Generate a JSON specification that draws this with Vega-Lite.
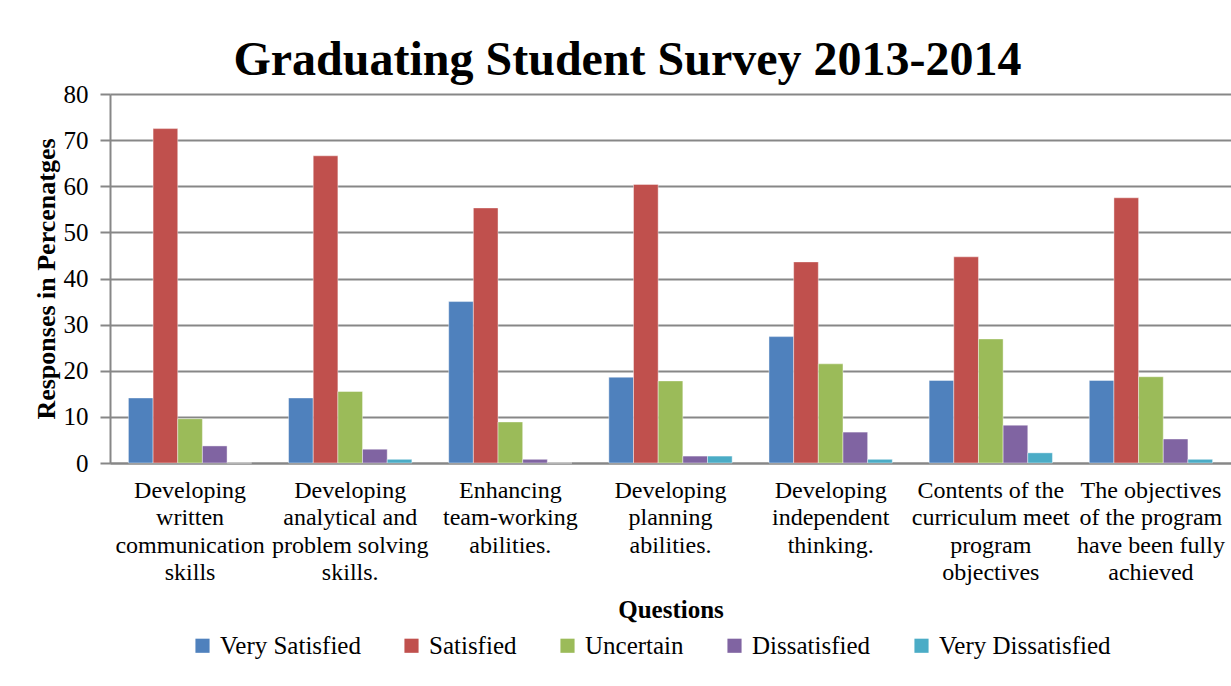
{
  "$schema": "https://vega.github.io/schema/vega-lite/v6.json",
  "autosize": "none",
  "width": 1121,
  "height": 369,
  "padding": {"left": 110, "top": 94, "right": 0, "bottom": 223},
  "background": "white",
  "title": {
    "text": "Graduating Student Survey 2013-2014",
    "font": "Liberation Serif",
    "fontSize": 48,
    "fontWeight": "bold",
    "color": "black",
    "anchor": "middle",
    "frame": "group",
    "dx": -43,
    "offset": -3
  },
  "data": {
    "values": [
      {"question": "Developing written communication skills", "response": "Very Satisfied", "pct": 14.1},
      {"question": "Developing written communication skills", "response": "Satisfied", "pct": 72.5},
      {"question": "Developing written communication skills", "response": "Uncertain", "pct": 9.6},
      {"question": "Developing written communication skills", "response": "Dissatisfied", "pct": 3.7},
      {"question": "Developing written communication skills", "response": "Very Dissatisfied", "pct": 0},
      {"question": "Developing analytical and problem solving skills.", "response": "Very Satisfied", "pct": 14.1},
      {"question": "Developing analytical and problem solving skills.", "response": "Satisfied", "pct": 66.6},
      {"question": "Developing analytical and problem solving skills.", "response": "Uncertain", "pct": 15.5},
      {"question": "Developing analytical and problem solving skills.", "response": "Dissatisfied", "pct": 3.0},
      {"question": "Developing analytical and problem solving skills.", "response": "Very Dissatisfied", "pct": 0.8},
      {"question": "Enhancing team-working abilities.", "response": "Very Satisfied", "pct": 35.0},
      {"question": "Enhancing team-working abilities.", "response": "Satisfied", "pct": 55.3},
      {"question": "Enhancing team-working abilities.", "response": "Uncertain", "pct": 8.9},
      {"question": "Enhancing team-working abilities.", "response": "Dissatisfied", "pct": 0.8},
      {"question": "Enhancing team-working abilities.", "response": "Very Dissatisfied", "pct": 0},
      {"question": "Developing planning abilities.", "response": "Very Satisfied", "pct": 18.6},
      {"question": "Developing planning abilities.", "response": "Satisfied", "pct": 60.4},
      {"question": "Developing planning abilities.", "response": "Uncertain", "pct": 17.8},
      {"question": "Developing planning abilities.", "response": "Dissatisfied", "pct": 1.5},
      {"question": "Developing planning abilities.", "response": "Very Dissatisfied", "pct": 1.5},
      {"question": "Developing independent thinking.", "response": "Very Satisfied", "pct": 27.4},
      {"question": "Developing independent thinking.", "response": "Satisfied", "pct": 43.6},
      {"question": "Developing independent thinking.", "response": "Uncertain", "pct": 21.5},
      {"question": "Developing independent thinking.", "response": "Dissatisfied", "pct": 6.7},
      {"question": "Developing independent thinking.", "response": "Very Dissatisfied", "pct": 0.8},
      {"question": "Contents of the curriculum meet program objectives", "response": "Very Satisfied", "pct": 17.9},
      {"question": "Contents of the curriculum meet program objectives", "response": "Satisfied", "pct": 44.7},
      {"question": "Contents of the curriculum meet program objectives", "response": "Uncertain", "pct": 26.9},
      {"question": "Contents of the curriculum meet program objectives", "response": "Dissatisfied", "pct": 8.2},
      {"question": "Contents of the curriculum meet program objectives", "response": "Very Dissatisfied", "pct": 2.2},
      {"question": "The objectives of the program have been fully achieved", "response": "Very Satisfied", "pct": 17.9},
      {"question": "The objectives of the program have been fully achieved", "response": "Satisfied", "pct": 57.5},
      {"question": "The objectives of the program have been fully achieved", "response": "Uncertain", "pct": 18.7},
      {"question": "The objectives of the program have been fully achieved", "response": "Dissatisfied", "pct": 5.2},
      {"question": "The objectives of the program have been fully achieved", "response": "Very Dissatisfied", "pct": 0.8}
    ]
  },
  "mark": {"type": "bar", "stroke": "white", "strokeWidth": 0.6, "strokeOpacity": 0.7},
  "encoding": {
    "x": {
      "field": "question",
      "type": "nominal",
      "sort": null,
      "scale": {"paddingInner": 0.23, "paddingOuter": 0.115},
      "axis": {
        "title": "Questions",
        "labelAngle": 0,
        "labelFont": "Liberation Serif",
        "labelFontSize": 24,
        "labelColor": "black",
        "labelLineHeight": 27.5,
        "labelBaseline": "top",
        "labelPadding": 15,
        "labelLimit": 0,
        "labelExpr": "{'Developing written communication skills': ['Developing', 'written', 'communication', 'skills'], 'Developing analytical and problem solving skills.': ['Developing', 'analytical and', 'problem solving', 'skills.'], 'Enhancing team-working abilities.': ['Enhancing', 'team-working', 'abilities.'], 'Developing planning abilities.': ['Developing', 'planning', 'abilities.'], 'Developing independent thinking.': ['Developing', 'independent', 'thinking.'], 'Contents of the curriculum meet program objectives': ['Contents of the', 'curriculum meet', 'program', 'objectives'], 'The objectives of the program have been fully achieved': ['The objectives', 'of the program', 'have been fully', 'achieved']}[datum.value]",
        "ticks": false,
        "domainColor": "#878787",
        "domainWidth": 2,
        "titleFont": "Liberation Serif",
        "titleFontSize": 25,
        "titleFontWeight": "bold",
        "titleColor": "black",
        "titlePadding": 13,
        "grid": false
      }
    },
    "xOffset": {
      "field": "response",
      "type": "nominal",
      "sort": ["Very Satisfied", "Satisfied", "Uncertain", "Dissatisfied", "Very Dissatisfied"],
      "scale": {"paddingInner": 0, "paddingOuter": 0}
    },
    "y": {
      "field": "pct",
      "type": "quantitative",
      "scale": {"domain": [0, 80], "nice": false},
      "axis": {
        "title": "Responses in Percenatges",
        "values": [0, 10, 20, 30, 40, 50, 60, 70, 80],
        "labelFont": "Liberation Serif",
        "labelFontSize": 25,
        "labelColor": "black",
        "labelPadding": 12,
        "tickSize": 10,
        "tickColor": "#878787",
        "tickWidth": 2,
        "domainColor": "#878787",
        "domainWidth": 2,
        "gridColor": "#878787",
        "gridWidth": 2,
        "titleFont": "Liberation Serif",
        "titleFontSize": 26,
        "titleFontWeight": "bold",
        "titleColor": "black",
        "titlePadding": 4
      }
    },
    "color": {
      "field": "response",
      "type": "nominal",
      "sort": ["Very Satisfied", "Satisfied", "Uncertain", "Dissatisfied", "Very Dissatisfied"],
      "scale": {
        "domain": ["Very Satisfied", "Satisfied", "Uncertain", "Dissatisfied", "Very Dissatisfied"],
        "range": ["#4F81BD", "#C0504D", "#9BBB59", "#8064A2", "#4BACC6"]
      },
      "legend": {
        "title": null,
        "orient": "none",
        "direction": "horizontal",
        "columns": 5,
        "legendX": 80,
        "legendY": 539,
        "symbolType": "square",
        "symbolSize": 200,
        "symbolStrokeWidth": 0,
        "labelFont": "Liberation Serif",
        "labelFontSize": 25,
        "labelColor": "black",
        "labelLimit": 0,
        "labelOffset": 5,
        "columnPadding": 38
      }
    }
  },
  "config": {
    "view": {"stroke": null},
    "axis": {"gridOpacity": 1}
  }
}
